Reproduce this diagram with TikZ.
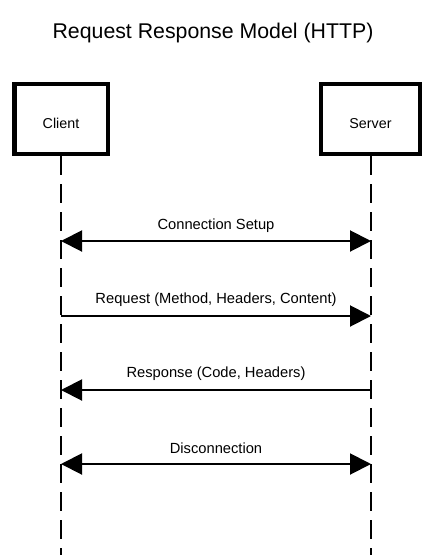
\documentclass[tikz,border=0pt]{standalone}
\usepackage{fontspec}
\setmainfont{Liberation Sans}
\usetikzlibrary{arrows.meta}
\begin{document}
\begin{tikzpicture}[x=1pt,y=-1pt,
  actor/.style={draw=black, line width=4.5pt, fill=white, minimum height=70pt, inner sep=0pt, text height=18.5pt, text depth=0pt, font=\fontsize{14.3}{16}\selectfont},
  lifeline/.style={line width=2pt, dash pattern=on 19pt off 9pt},
  msg/.style={line width=2pt},
  tip/.style={-{Triangle[length=21pt,width=21pt]}},
  tips/.style={{Triangle[length=21pt,width=21pt]}-{Triangle[length=21pt,width=21pt]}},
  lbl/.style={font=\fontsize{14.7}{16}\selectfont, inner sep=0pt}
]
\useasboundingbox (0,0) rectangle (434,555);
\node[font=\fontsize{21.3}{24}\selectfont, inner sep=0pt] (title) at (213,33) {Request Response Model (HTTP)};
\node[actor, minimum width=93.5pt] (client) at (61,119) {Client};
\node[actor, minimum width=99pt] (server) at (370.5,119) {Server};
\coordinate (cend) at (61,555);
\coordinate (send) at (371,555);
\draw[lifeline] (61,156) -- (cend);
\draw[lifeline] (371,156) -- (send);
\coordinate (c1) at (61,241); \coordinate (s1) at (371,241);
\coordinate (c2) at (61,316); \coordinate (s2) at (371,316);
\coordinate (c3) at (61,390); \coordinate (s3) at (371,390);
\coordinate (c4) at (61,464); \coordinate (s4) at (371,464);
\draw[msg,tips] (c1) -- (s1);
\draw[msg,tip] (c2) -- (s2);
\draw[msg,tip] (s3) -- (c3);
\draw[msg,tips] (c4) -- (s4);
\node[lbl] (l1) at (216,226) {Connection Setup};
\node[lbl] (l2) at (216,300) {Request (Method, Headers, Content)};
\node[lbl] (l3) at (216,374) {Response (Code, Headers)};
\node[lbl] (l4) at (216,448) {Disconnection};
\end{tikzpicture}
\end{document}
